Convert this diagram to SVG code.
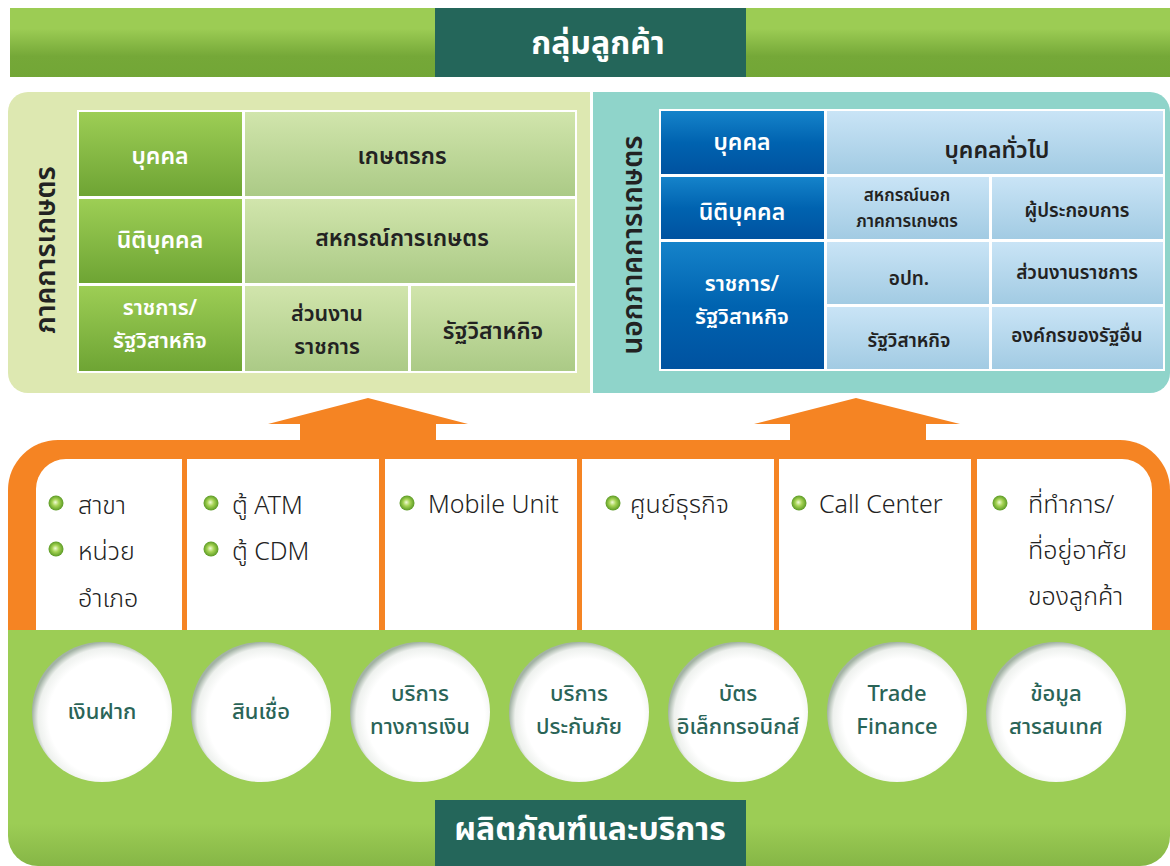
<svg xmlns="http://www.w3.org/2000/svg" width="1170" height="866" viewBox="0 0 1170 866">
<defs>
  <linearGradient id="gBanner" x1="0" y1="0" x2="0" y2="1">
    <stop offset="0" stop-color="#9ccc54"/>
    <stop offset="0.3" stop-color="#9ccc54"/>
    <stop offset="0.7" stop-color="#75a838"/>
    <stop offset="1" stop-color="#72a636"/>
  </linearGradient>
  <linearGradient id="gDarkGreen" x1="0" y1="0" x2="0" y2="1">
    <stop offset="0" stop-color="#9dce55"/>
    <stop offset="1" stop-color="#6ea434"/>
  </linearGradient>
  <linearGradient id="gLightGreen" x1="0" y1="0" x2="0" y2="1">
    <stop offset="0" stop-color="#d1e5ac"/>
    <stop offset="1" stop-color="#abca86"/>
  </linearGradient>
  <linearGradient id="gBlue" x1="0" y1="0" x2="0" y2="1">
    <stop offset="0" stop-color="#1583ca"/>
    <stop offset="0.5" stop-color="#0063b0"/>
    <stop offset="1" stop-color="#0052a0"/>
  </linearGradient>
  <linearGradient id="gLightBlue" x1="0" y1="0" x2="0" y2="1">
    <stop offset="0" stop-color="#c9e4f6"/>
    <stop offset="1" stop-color="#a2cbe3"/>
  </linearGradient>
  <linearGradient id="gBottom" x1="0" y1="0" x2="0" y2="1">
    <stop offset="0" stop-color="#9ccd55"/>
    <stop offset="0.82" stop-color="#9ccd55"/>
    <stop offset="1" stop-color="#86b646"/>
  </linearGradient>
  <radialGradient id="gBullet" cx="0.5" cy="0.5" r="0.5" fx="0.45" fy="0.45">
    <stop offset="0" stop-color="#f2fbd8"/>
    <stop offset="0.45" stop-color="#a6d454"/>
    <stop offset="1" stop-color="#5b9a25"/>
  </radialGradient>
  <radialGradient id="gCircle" cx="0.54" cy="0.54" r="0.54">
    <stop offset="0" stop-color="#ffffff"/>
    <stop offset="0.78" stop-color="#ffffff"/>
    <stop offset="0.92" stop-color="#eef1ee"/>
    <stop offset="1" stop-color="#a3b3a5"/>
  </radialGradient>
  <style>
    .th { font-family: 'Noto Sans Thai', 'Noto Sans', 'DejaVu Sans', sans-serif; }
    .ban { fill: #ffffff; font-size: 32px; font-weight: bold; text-anchor: middle; }
    .cw { fill: #ffffff; font-size: 23px; font-weight: 600; text-anchor: middle; }
    .cd { fill: #222222; font-size: 23px; font-weight: 600; text-anchor: middle; }
    .cw2 { fill: #ffffff; font-size: 21.5px; font-weight: 600; text-anchor: middle; }
    .cd2 { fill: #222222; font-size: 21.5px; font-weight: 600; text-anchor: middle; }
    .cs { fill: #222222; font-size: 19px; font-weight: 600; text-anchor: middle; }
    .cs2 { fill: #222222; font-size: 17px; font-weight: 600; text-anchor: middle; }
    .vt { fill: #222222; font-size: 28px; font-weight: 600; text-anchor: middle; }
    .ch { fill: #222222; font-size: 25px; font-weight: 300; }
    .ct { fill: #2a6457; font-size: 22px; font-weight: 500; text-anchor: middle; }
    .bul { fill: url(#gBullet); }
    .circ { fill: url(#gCircle); }
    .orange { fill: #f58423; }
  </style>
</defs>

<!-- Top banner -->
<g id="banner-top">
  <rect x="10" y="8" width="1160" height="69" fill="url(#gBanner)"/>
  <rect x="435" y="8" width="311" height="69" fill="#24665a"/>
  <text class="th ban" x="598" y="54">กลุ่มลูกค้า</text>
</g>

<!-- Left panel -->
<g id="panel-agri">
  <path d="M28,92 H590 V393 H28 A20,20 0 0 1 8,373 V112 A20,20 0 0 1 28,92 Z" fill="#dde8b1"/>
  <text class="th vt" transform="translate(55,250) rotate(-90)">ภาคการเกษตร</text>
  <rect x="77" y="110" width="500" height="263" fill="#ffffff"/>
  <rect x="79" y="112" width="163" height="84" fill="url(#gDarkGreen)"/>
  <rect x="245" y="112" width="330" height="84" fill="url(#gLightGreen)"/>
  <rect x="79" y="199" width="163" height="84" fill="url(#gDarkGreen)"/>
  <rect x="245" y="199" width="330" height="84" fill="url(#gLightGreen)"/>
  <rect x="79" y="286" width="163" height="85" fill="url(#gDarkGreen)"/>
  <rect x="245" y="286" width="163" height="85" fill="url(#gLightGreen)"/>
  <rect x="411" y="286" width="164" height="85" fill="url(#gLightGreen)"/>
  <text class="th cw" x="160" y="164">บุคคล</text>
  <text class="th cd" x="402" y="164">เกษตรกร</text>
  <text class="th cw" x="160" y="248">นิติบุคคล</text>
  <text class="th cd" x="402" y="246">สหกรณ์การเกษตร</text>
  <text class="th cw2" x="160" y="315">ราชการ/</text>
  <text class="th cw2" x="160" y="348">รัฐวิสาหกิจ</text>
  <text class="th cd2" x="327" y="321">ส่วนงาน</text>
  <text class="th cd2" x="327" y="354">ราชการ</text>
  <text class="th cd" x="493" y="339">รัฐวิสาหกิจ</text>
</g>

<!-- Right panel -->
<g id="panel-nonagri">
  <path d="M593,92 H1150 A20,20 0 0 1 1170,112 V373 A20,20 0 0 1 1150,393 H593 Z" fill="#8fd4ca"/>
  <text class="th vt" transform="translate(642,245) rotate(-90)">นอกภาคการเกษตร</text>
  <rect x="659" y="109" width="506" height="262" fill="#ffffff"/>
  <rect x="661" y="111" width="163" height="63" fill="url(#gBlue)"/>
  <rect x="827" y="111" width="336" height="63" fill="url(#gLightBlue)"/>
  <rect x="661" y="177" width="163" height="62" fill="url(#gBlue)"/>
  <rect x="827" y="177" width="162" height="62" fill="url(#gLightBlue)"/>
  <rect x="992" y="177" width="171" height="62" fill="url(#gLightBlue)"/>
  <rect x="661" y="242" width="163" height="127" fill="url(#gBlue)"/>
  <rect x="827" y="242" width="162" height="62" fill="url(#gLightBlue)"/>
  <rect x="992" y="242" width="171" height="62" fill="url(#gLightBlue)"/>
  <rect x="827" y="307" width="162" height="62" fill="url(#gLightBlue)"/>
  <rect x="992" y="307" width="171" height="62" fill="url(#gLightBlue)"/>
  <text class="th cw" x="742" y="150">บุคคล</text>
  <text class="th cd" x="997" y="158">บุคคลทั่วไป</text>
  <text class="th cw" x="742" y="220">นิติบุคคล</text>
  <text class="th cs2" x="907" y="201">สหกรณ์นอก</text>
  <text class="th cs2" x="907" y="227">ภาคการเกษตร</text>
  <text class="th cs" x="1077" y="217">ผู้ประกอบการ</text>
  <text class="th cw2" x="742" y="291">ราชการ/</text>
  <text class="th cw2" x="742" y="324">รัฐวิสาหกิจ</text>
  <text class="th cs" x="909" y="285">อปท.</text>
  <text class="th cs" x="1077" y="279">ส่วนงานราชการ</text>
  <text class="th cs" x="909" y="347">รัฐวิสาหกิจ</text>
  <text class="th cs" x="1077" y="342">องค์กรของรัฐอื่น</text>
</g>

<!-- Bottom green area (products) -->
<g id="products">
  <path d="M8,630 H1170 V836 A30,30 0 0 1 1140,866 H38 A30,30 0 0 1 8,836 Z" fill="url(#gBottom)"/>
  <g id="p1"><circle class="circ" cx="102" cy="712" r="70"/><text class="th ct" x="102" y="719">เงินฝาก</text></g>
  <g id="p2"><circle class="circ" cx="261" cy="712" r="70"/><text class="th ct" x="261" y="719">สินเชื่อ</text></g>
  <g id="p3"><circle class="circ" cx="420" cy="712" r="70"/><text class="th ct" x="420" y="701">บริการ</text><text class="th ct" x="420" y="734">ทางการเงิน</text></g>
  <g id="p4"><circle class="circ" cx="579" cy="712" r="70"/><text class="th ct" x="579" y="701">บริการ</text><text class="th ct" x="579" y="734">ประกันภัย</text></g>
  <g id="p5"><circle class="circ" cx="738" cy="712" r="70"/><text class="th ct" x="738" y="701">บัตร</text><text class="th ct" x="738" y="734">อิเล็กทรอนิกส์</text></g>
  <g id="p6"><circle class="circ" cx="897" cy="712" r="70"/><text class="th ct" x="897" y="701">Trade</text><text class="th ct" x="897" y="734">Finance</text></g>
  <g id="p7"><circle class="circ" cx="1056" cy="712" r="70"/><text class="th ct" x="1056" y="701">ข้อมูล</text><text class="th ct" x="1056" y="734">สารสนเทศ</text></g>
</g>
<g id="banner-bottom">
  <rect x="435" y="800" width="311" height="66" fill="#24665a"/>
  <text class="th ban" x="590" y="840">ผลิตภัณฑ์และบริการ</text>
</g>

<!-- Channels (orange band) -->
<g id="channels">
  <path class="orange" d="M8,630 V490 A50,50 0 0 1 58,440 H1120 A50,50 0 0 1 1170,490 V630 Z"/>
  <g id="ch1">
    <path d="M36,630 V489 A30,30 0 0 1 66,459 H182 V630 Z" fill="#ffffff"/>
    <circle class="bul" cx="56" cy="503" r="7.5"/>
    <text class="th ch" x="78" y="514">สาขา</text>
    <circle class="bul" cx="56" cy="549" r="7.5"/>
    <text class="th ch" x="78" y="560">หน่วย</text>
    <text class="th ch" x="78" y="607">อำเภอ</text>
  </g>
  <g id="ch2">
    <rect x="187" y="459" width="192" height="171" fill="#ffffff"/>
    <circle class="bul" cx="211" cy="503" r="7.5"/>
    <text class="th ch" x="232" y="514">ตู้ ATM</text>
    <circle class="bul" cx="211" cy="549" r="7.5"/>
    <text class="th ch" x="232" y="560">ตู้ CDM</text>
  </g>
  <g id="ch3">
    <rect x="385" y="459" width="192" height="171" fill="#ffffff"/>
    <circle class="bul" cx="407" cy="503" r="7.5"/>
    <text class="th ch" x="428" y="513">Mobile Unit</text>
  </g>
  <g id="ch4">
    <rect x="582" y="459" width="192" height="171" fill="#ffffff"/>
    <circle class="bul" cx="613" cy="503" r="7.5"/>
    <text class="th ch" x="630" y="513">ศูนย์ธุรกิจ</text>
  </g>
  <g id="ch5">
    <rect x="779" y="459" width="192" height="171" fill="#ffffff"/>
    <circle class="bul" cx="799" cy="503" r="7.5"/>
    <text class="th ch" x="819" y="513">Call Center</text>
  </g>
  <g id="ch6">
    <path d="M977,459 H1122 A30,30 0 0 1 1152,489 V630 H977 Z" fill="#ffffff"/>
    <circle class="bul" cx="1000" cy="503" r="7.5"/>
    <text class="th ch" x="1028" y="513">ที่ทำการ/</text>
    <text class="th ch" x="1028" y="559">ที่อยู่อาศัย</text>
    <text class="th ch" x="1028" y="605">ของลูกค้า</text>
  </g>
</g>

<!-- Connectors (arrows) -->
<g id="connectors">
  <polygon class="orange" points="268,424 368,398 468,424 436,424 436,442 300,442 300,424"/>
  <polygon class="orange" points="754,424 856,398 960,424 926,424 926,442 790,442 790,424"/>
</g>
</svg>
